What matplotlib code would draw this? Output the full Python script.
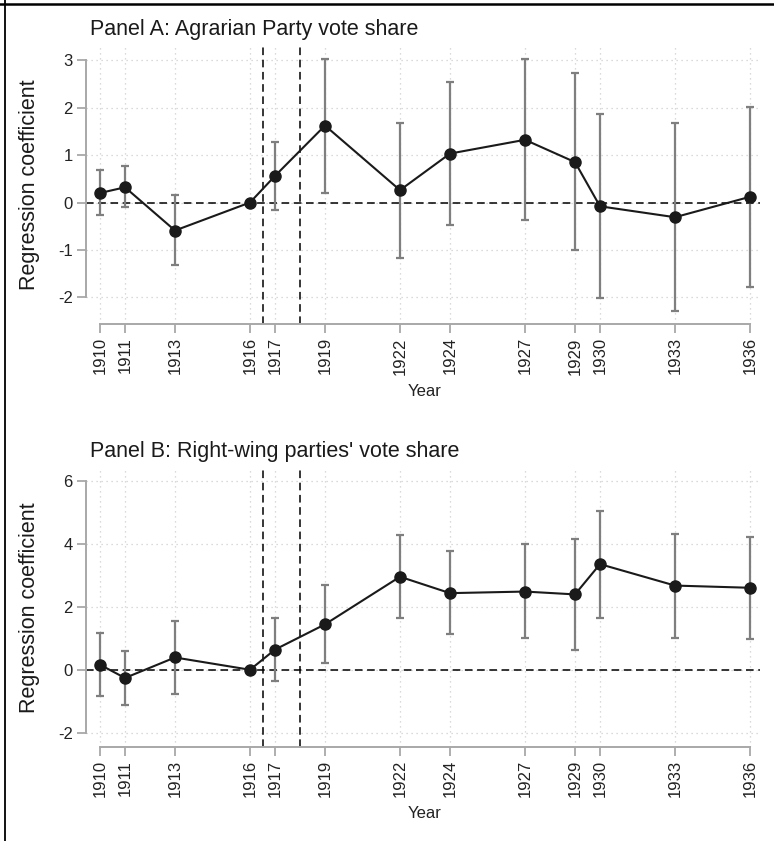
import numpy as np
import matplotlib
matplotlib.use("Agg")
import matplotlib.pyplot as plt
from matplotlib.lines import Line2D

plt.rcParams['font.family'] = ['Liberation Sans', 'DejaVu Sans']

# years of the elections
years = [1910, 1911, 1913, 1916, 1917, 1919, 1922, 1924, 1927, 1929, 1930, 1933, 1936]

# Panel A: Agrarian Party vote share
coef_a = [0.20, 0.32, -0.59, 0.0, 0.56, 1.62, 0.26, 1.03, 1.32, 0.85, -0.08, -0.31, 0.12]
hi_a = [0.68, 0.77, 0.15, 0.0, 1.27, 3.03, 1.68, 2.54, 3.03, 2.72, 1.86, 1.68, 2.01]
lo_a = [-0.26, -0.10, -1.31, 0.0, -0.16, 0.21, -1.16, -0.48, -0.37, -0.99, -2.02, -2.29, -1.77]

# Panel B: Right-wing parties' vote share
coef_b = [0.16, -0.26, 0.39, 0.0, 0.64, 1.44, 2.95, 2.43, 2.48, 2.39, 3.35, 2.67, 2.60]
hi_b = [1.16, 0.61, 1.54, 0.0, 1.65, 2.68, 4.27, 3.78, 3.99, 4.16, 5.05, 4.31, 4.20]
lo_b = [-0.83, -1.13, -0.76, 0.0, -0.35, 0.20, 1.63, 1.12, 1.00, 0.63, 1.65, 1.02, 0.99]

yticks_a = [-2, -1, 0, 1, 2, 3]
yticks_b = [-2, 0, 2, 4, 6]
event_lines = [1916.5, 1918]

W, H = 774, 841
fig = plt.figure(figsize=(W / 100, H / 100), dpi=100)

axis_grey = '#a8a8a8'
bar_grey = '#7f7f7f'


def panel(top_px, ylim, yticks, coef, lo, hi, title):
    bottom_px = top_px + 280
    ax = fig.add_axes([86 / W, 1 - bottom_px / H, 674 / W, 280 / H])
    ax.set_xlim(1909.44, 1936.4)
    ax.set_ylim(*ylim)

    # dotted grid
    for y in yticks:
        ax.axhline(y, color='#cfcfcf', lw=0.9, ls=(0, (1, 3)), zorder=0)
    for x in years:
        ax.axvline(x, color='#cfcfcf', lw=0.9, ls=(0, (1, 3)), zorder=0)

    ax.axhline(0, color='black', lw=1.1, ls=(0, (5, 3)), zorder=1)
    for x in event_lines:
        ax.axvline(x, color='black', lw=1.1, ls=(0, (5, 3)), zorder=1)

    c = np.array(coef)
    has_ci = np.array(hi) != np.array(lo)
    err = np.vstack([c - np.array(lo), np.array(hi) - c])
    yr = np.array(years)
    ax.errorbar(yr[has_ci], c[has_ci], yerr=err[:, has_ci], fmt='none',
                ecolor=bar_grey, elinewidth=1.6, capsize=3, capthick=1.6, zorder=2)
    ax.plot(years, coef, color='#1a1a1a', lw=1.5, marker='o', ms=8,
            mfc='#1a1a1a', mec='#1a1a1a', zorder=3)

    for side in ['top', 'right']:
        ax.spines[side].set_visible(False)
    for side in ['left', 'bottom']:
        ax.spines[side].set_color(axis_grey)
        ax.spines[side].set_linewidth(1.4)
    ax.spines['left'].set_bounds(yticks[0], yticks[-1])
    ax.spines['bottom'].set_bounds(years[0], years[-1])

    ax.set_yticks(yticks)
    ax.set_yticklabels([str(t) for t in yticks])
    ax.set_xticks(years)
    ax.set_xticklabels([str(y) for y in years], rotation=90)
    ax.tick_params(axis='both', colors=axis_grey, labelcolor='#222222',
                   labelsize=12, length=6.5, width=1.3, pad=3)

    fig.text(90 / W, 1 - (top_px - 15) / H, title, fontsize=15.5,
             color='#1a1a1a', ha='left', va='center')
    fig.text(30 / W, 1 - (top_px + 141) / H, 'Regression coefficient',
             fontsize=15.5, color='#1a1a1a', rotation=90, ha='center', va='center')
    fig.text(425 / W, 1 - (bottom_px + 67) / H, 'Year', fontsize=12,
             color='#222222', ha='center', va='center')
    return ax


panel(44, (-2.558, 3.337), yticks_a, coef_a, lo_a, hi_a,
      'Panel A: Agrarian Party vote share')
panel(466.7, (-2.44, 6.44), yticks_b, coef_b, lo_b, hi_b,
      "Panel B: Right-wing parties' vote share")

# frame lines at top and left edge
fig.add_artist(Line2D([0, 1], [1 - 3.5 / H, 1 - 3.5 / H], color='black', lw=1.8))
fig.add_artist(Line2D([4.5 / W, 4.5 / W], [0, 1], color='black', lw=1.3))

fig.savefig('out.png', dpi=100)
